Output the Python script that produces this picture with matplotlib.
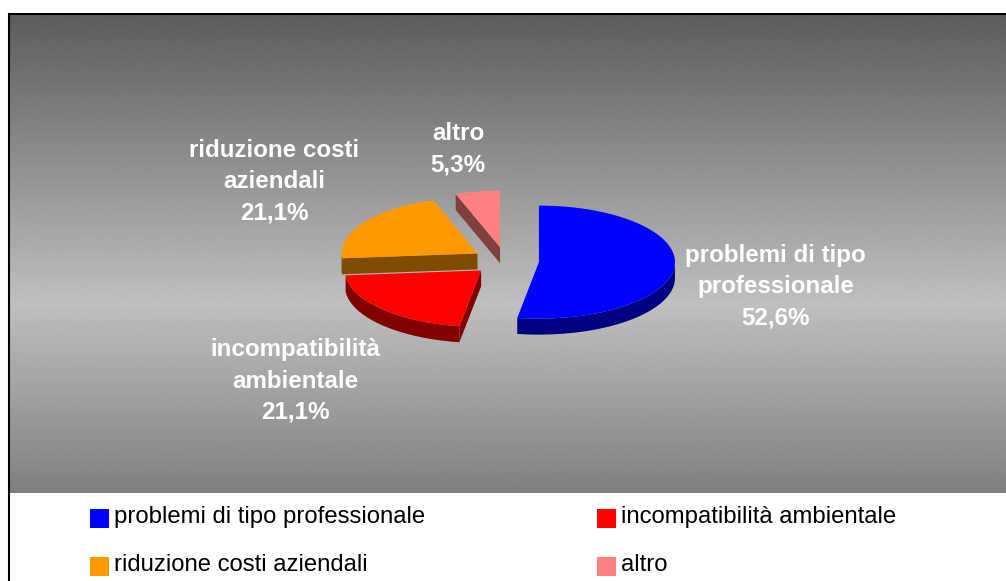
import matplotlib
matplotlib.use("Agg")
import matplotlib.pyplot as plt
import numpy as np
from matplotlib.patches import Polygon, Rectangle

plt.rcParams["font.family"] = ["Liberation Sans", "DejaVu Sans"]

categories = ["problemi di tipo professionale", "incompatibilità ambientale",
              "riduzione costi aziendali", "altro"]
values = [52.6, 21.1, 21.1, 5.3]
slice_labels = ["problemi di tipo\nprofessionale\n52,6%", "incompatibilità\nambientale\n21,1%",
                "riduzione costi\naziendali\n21,1%", "altro\n5,3%"]
colors = ["#0000ff", "#ff0000", "#ff9900", "#ff8080"]
side_colors = ["#000080", "#800000", "#804d00", "#804040"]

# pie geometry in image pixels
CX, CY = 505.6, 261
RX, RY = 136, 56.5
EXPLODE = 0.246
DEPTH = 16


def rim(angle, center):
    # angle in degrees, clockwise from 12 o'clock
    t = np.radians(angle)
    return np.column_stack([center[0] + RX * np.sin(t), center[1] - RY * np.cos(t)])


def draw_slice(ax, start, end, color, side_color):
    mid = np.radians((start + end) / 2)
    center = (CX + EXPLODE * RX * np.sin(mid), CY - EXPLODE * RY * np.cos(mid))
    down = np.array([0, DEPTH])
    apex = np.array([center])

    # radial face on the starting edge, only when it faces the viewer
    if np.sin(np.radians(start)) < 0:
        p = rim(np.array([start]), center)
        ax.add_patch(Polygon(np.vstack([apex, p, p + down, apex + down]), fc=side_color, ec="none", zorder=2))

    # outer wall, lower half of the ellipse only
    lo, hi = max(start, 90), min(end, 270)
    if lo < hi:
        arc = rim(np.linspace(lo, hi, 80), center)
        ax.add_patch(Polygon(np.vstack([arc, (arc + down)[::-1]]), fc=side_color, ec="none", zorder=2))

    top = rim(np.linspace(start, end, 120), center)
    ax.add_patch(Polygon(np.vstack([apex, top]), fc=color, ec="none", zorder=3))


fig = plt.figure(figsize=(10.06, 5.81), dpi=100, facecolor="white")
ax = fig.add_axes([0, 0, 1, 1])
ax.axis("off")

# plot area with vertical grey gradient
stops_y = np.array([14, 303, 493])
stops_v = np.array([0.36, 0.75, 0.50])
grad = np.interp(np.arange(14, 494), stops_y, stops_v).reshape(-1, 1)
ax.imshow(grad, extent=(9, 1006, 493, 14), cmap="gray", vmin=0, vmax=1, aspect="auto", zorder=1)
ax.set_xlim(0, 1006)
ax.set_ylim(581, 0)

# frame
ax.plot([9, 9], [581, 13], color="black", lw=1.5, zorder=5, solid_capstyle="butt")
ax.plot([8, 1006], [13.5, 13.5], color="black", lw=1.5, zorder=5, solid_capstyle="butt")

# slices, back ones first
angles = np.cumsum([0] + values) / sum(values) * 360
for i in [3, 2, 0, 1]:
    draw_slice(ax, angles[i], angles[i + 1], colors[i], side_colors[i])

label_pos = [(775.5, 287), (295, 381), (274, 182), (458, 149.5)]
for text, (x, y) in zip(slice_labels, label_pos):
    ax.text(x, y, text, color="white", fontsize=17.4, fontweight="bold", ha="center", va="center",
            linespacing=1.45, zorder=6)

legend_pos = [(90, 516), (597, 516), (90, 564), (597, 564)]
for name, color, (x, y) in zip(categories, colors, legend_pos):
    ax.add_patch(Rectangle((x, y - 7), 19, 19, fc=color, ec="none", zorder=4))
    ax.text(x + 24, y + 1, name, color="black", fontsize=17.2, ha="left", va="center", zorder=6)

fig.savefig("out.png", dpi=100)
